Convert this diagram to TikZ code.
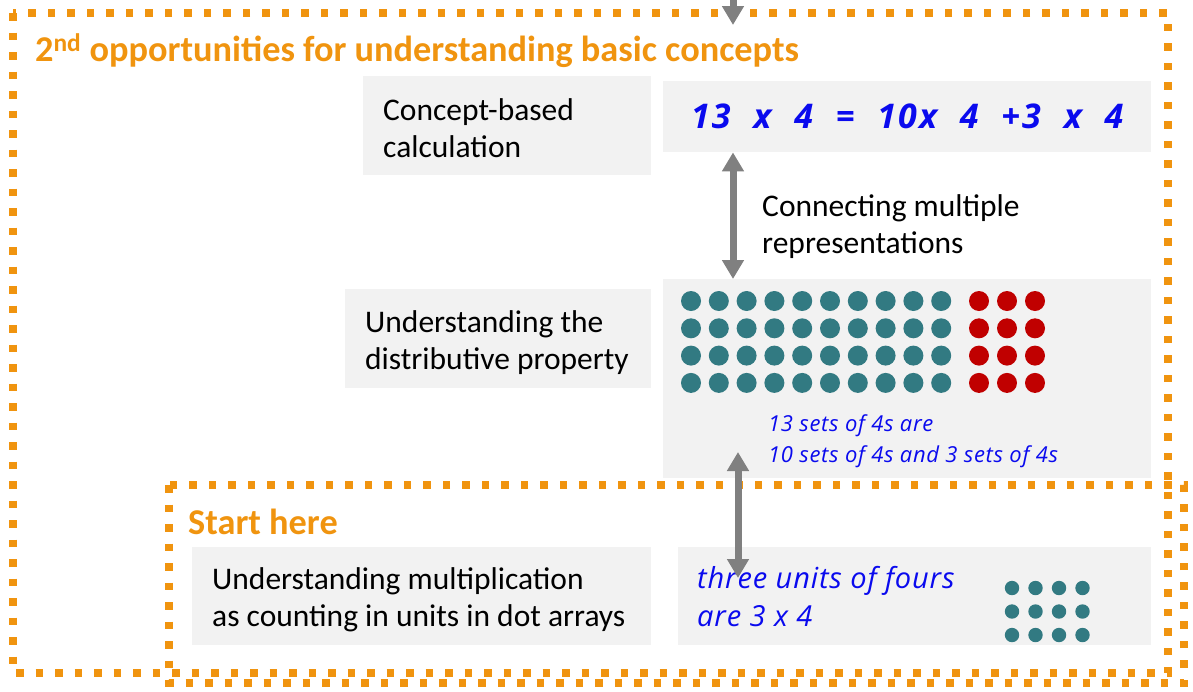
\documentclass[tikz,border=0pt]{standalone}
\usepackage{fontspec}
\setmainfont{Carlito}
\newfontfamily\handfont{Open Sans}[LetterSpace=3]
\newfontfamily\sumfont{Open Sans}[LetterSpace=6, WordSpace=2.1]
\usetikzlibrary{arrows.meta,calc,positioning}
\definecolor{Amber}{HTML}{F0940F}
\definecolor{Panel}{HTML}{F2F2F2}
\definecolor{Slate}{HTML}{808080}
\definecolor{Teal}{HTML}{327A82}
\definecolor{Crimson}{HTML}{C00000}
\definecolor{Ink}{HTML}{0A0AEE}

\begin{document}
\begin{tikzpicture}[x=1pt, y=-1pt,
    panel/.style={fill=Panel, anchor=north west, inner ysep=0pt, inner xsep=20pt, align=flush left,
      font=\fontsize{31.5}{37}\selectfont},
    dotted box/.style={draw=Amber, line width=7.5pt, dash pattern=on 7.5pt off 12pt},
    heading/.style={anchor=base west, inner sep=0pt, text=Amber, font=\fontsize{36.3}{43}\selectfont\bfseries},
    hand/.style={anchor=base west, inner sep=0pt, text=Ink, align=left},
    link/.style={draw=Slate, line width=7pt, -{Triangle[width=21pt,length=19pt]}},
    twoway/.style={draw=Slate, line width=7pt, {Triangle[width=21pt,length=19pt]}-{Triangle[width=21pt,length=19pt]}}]
  \useasboundingbox (0,0) rectangle (1193,691);

  % the two frames
  \draw[dotted box] (13,13) rectangle (1168,673);
  \draw[dotted box] (169,485) rectangle (1184,683);
  \node[heading] (second) at (35,61) {2\textsuperscript{nd} opportunities for understanding basic concepts};
  \node[heading] (start) at (188,534) {Start here};

  % left column
  \node[panel, text width=248pt, text height=27pt, minimum height=99pt] (concept) at (363,76) {Concept-based\\calculation};
  \node[panel, text width=266pt, text height=29pt, minimum height=99pt] (distrib) at (345,289) {Understanding the\\distributive property};
  \node[panel, text width=419pt, text height=29pt, minimum height=98pt] (counting) at (192,547) {Understanding multiplication\\as counting in units in dot arrays};

  % right column
  \node[panel, minimum width=488pt, minimum height=71pt, inner xsep=0pt, align=center, text=Ink,
    font=\sumfont\bfseries\itshape\fontsize{34}{40}\selectfont] (calc) at (663,81) {13 x 4 = 10x 4 +3 x 4};
  \node[panel, minimum width=488pt, minimum height=199pt, inner xsep=0pt] (dots) at (663,279) {};
  \node[panel, minimum width=473pt, minimum height=98pt, inner xsep=0pt] (units) at (678,547) {};

  \foreach \col in {0,...,9}
    \foreach \row in {0,...,3}
      \fill[Teal] (691+27.8*\col, 301+27.3*\row) circle (10pt);
  \foreach \col in {0,1,2}
    \foreach \row in {0,...,3}
      \fill[Crimson] (979+28*\col, 301+27.3*\row) circle (10pt);
  \foreach \col in {0,...,3}
    \foreach \row in {0,1,2}
      \fill[Teal] (1012+23.5*\col, 588+23.5*\row) circle (7.2pt);

  \node[hand, font=\handfont\itshape\fontsize{22}{30.5}\selectfont] (sets) at (768,462) {13 sets of 4s are\\10 sets of 4s and 3 sets of 4s};
  \node[hand, font=\handfont\itshape\fontsize{29}{37.5}\selectfont] (fours) at (697,626) {three units of fours\\are 3 x 4};
  \node[anchor=base west, inner sep=0pt, align=left, font=\fontsize{31.5}{37}\selectfont] (connect) at (762,253) {Connecting multiple\\representations};

  % arrows
  \coordinate (entry) at (733,-5);
  \coordinate (entrytip) at (733,25);
  \coordinate (splitx) at (733,0);
  \coordinate (linkup) at (738,452);
  \coordinate (linkdown) at (738,578);
  \draw[link] (entry) -- (entrytip);
  \draw[twoway] (calc.south -| splitx) -- (dots.north -| splitx);
  \draw[twoway] (linkup) -- (linkdown);
\end{tikzpicture}
\end{document}
